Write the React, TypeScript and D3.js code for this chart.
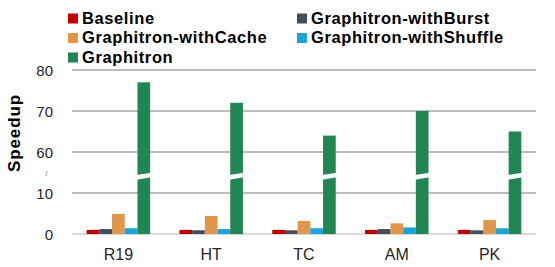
import { useEffect, useRef } from "react";
import * as d3 from "d3";

// benchmark graphs on the x axis
const categories = ["R19", "HT", "TC", "AM", "PK"];

// one array per design variant (speedup)
const series = [
  "Baseline",
  "Graphitron-withBurst",
  "Graphitron-withCache",
  "Graphitron-withShuffle",
  "Graphitron",
];
const baseline = [1, 1, 1, 1, 1];
const withBurst = [1.2, 0.9, 0.9, 1.2, 0.9];
const withCache = [4.9, 4.4, 3.2, 2.6, 3.4];
const withShuffle = [1.4, 1.2, 1.4, 1.6, 1.4];
const graphitron = [77, 72, 64, 70, 65];

const colors = ["#C00000", "#3F4E58", "#E0974B", "#1BA3DC", "#218651"];

// broken axis: 0-10 then 60-80
const yTicks = [0, 10, 60, 70, 80];

const W = 555;
const H = 267;
const FONT = "Arial, 'Liberation Sans', sans-serif";

const App = () => {
  const ref = useRef<SVGSVGElement>(null);

  useEffect(() => {
    const svg = d3.select(ref.current);
    svg.selectAll("*").remove();

    const values = [baseline, withBurst, withCache, withShuffle, graphitron];

    const x0 = d3
      .scaleBand()
      .domain(categories)
      .range([72, 536])
      .paddingInner(0.316)
      .paddingOuter(0.158);
    const x1 = d3.scaleBand().domain(series).range([0, x0.bandwidth()]);
    const y = d3.scaleLinear().domain([0, 10, 60, 80]).range([234, 193, 152, 70]);

    // gridlines
    svg
      .append("g")
      .selectAll("line")
      .data(yTicks)
      .join("line")
      .attr("x1", 72)
      .attr("x2", 536)
      .attr("y1", (d) => y(d))
      .attr("y2", (d) => y(d))
      .attr("stroke", (d) => (d === 0 ? "#D9D9D9" : "#BDBDBD"))
      .attr("stroke-width", 2);

    // tick labels
    svg
      .append("g")
      .selectAll("text")
      .data(yTicks)
      .join("text")
      .attr("x", 53)
      .attr("y", (d) => y(d) + 5.5)
      .attr("text-anchor", "end")
      .attr("font-family", FONT)
      .attr("font-size", 15)
      .attr("fill", "#262626")
      .text((d) => d);

    // break mark on the axis
    svg
      .append("path")
      .attr("d", "M46.5,171 q1.4,1.2 0,2.6 q-1.4,1.3 0,2.6")
      .attr("fill", "none")
      .attr("stroke", "#8C8C8C")
      .attr("stroke-width", 0.9);

    // y title
    svg
      .append("text")
      .attr("transform", `translate(20,133) rotate(-90)`)
      .attr("text-anchor", "middle")
      .attr("font-family", FONT)
      .attr("font-size", 17)
      .attr("font-weight", "bold")
      .attr("letter-spacing", 0.9)
      .attr("fill", "#000")
      .text("Speedup");

    // bars
    const groups = svg
      .append("g")
      .selectAll("g")
      .data(categories)
      .join("g")
      .attr("transform", (d) => `translate(${x0(d)},0)`);

    groups
      .selectAll("rect")
      .data((_, i) => series.map((s, j) => ({ s, j, v: values[j][i] })))
      .join("rect")
      .attr("x", (d) => x1(d.s)!)
      .attr("width", x1.bandwidth())
      .attr("y", (d) => y(d.v))
      .attr("height", (d) => y(0) - y(d.v))
      .attr("fill", (d) => colors[d.j]);

    // white slash across the tall bars
    groups
      .selectAll("path.brk")
      .data((_, i) => series.map((s, j) => ({ s, v: values[j][i] })).filter((d) => d.v > 10))
      .join("path")
      .attr("class", "brk")
      .attr("d", (d) => {
        const a = x1(d.s)! - 1;
        const b = a + x1.bandwidth() + 2;
        return `M${a},175 L${b},172.8 L${b},177.3 L${a},179.8 Z`;
      })
      .attr("fill", "#fff");

    // x labels
    svg
      .append("g")
      .selectAll("text")
      .data(categories)
      .join("text")
      .attr("x", (d) => x0(d)! + x0.bandwidth() / 2)
      .attr("y", 260)
      .attr("text-anchor", "middle")
      .attr("font-family", FONT)
      .attr("font-size", 16)
      .attr("fill", "#262626")
      .text((d) => d);

    // legend
    const legendPos = [
      [68, 23.5],
      [297, 23.5],
      [68, 43],
      [297, 43],
      [68, 62.5],
    ];
    const legend = svg
      .append("g")
      .selectAll("g")
      .data(series)
      .join("g")
      .attr("transform", (_, i) => `translate(${legendPos[i][0]},${legendPos[i][1]})`);
    legend
      .append("rect")
      .attr("x", 0)
      .attr("y", -10)
      .attr("width", 10)
      .attr("height", 10)
      .attr("fill", (_, i) => colors[i]);
    legend
      .append("text")
      .attr("x", 14)
      .attr("y", 0)
      .attr("font-family", FONT)
      .attr("font-size", 16.5)
      .attr("font-weight", "bold")
      .attr("letter-spacing", 0.6)
      .attr("fill", "#000")
      .text((d) => d);
  }, []);

  return (
    <svg
      ref={ref}
      width={W}
      height={H}
      style={{ position: "absolute", left: 0, top: 0, background: "#fff" }}
    />
  );
};

export default App;
